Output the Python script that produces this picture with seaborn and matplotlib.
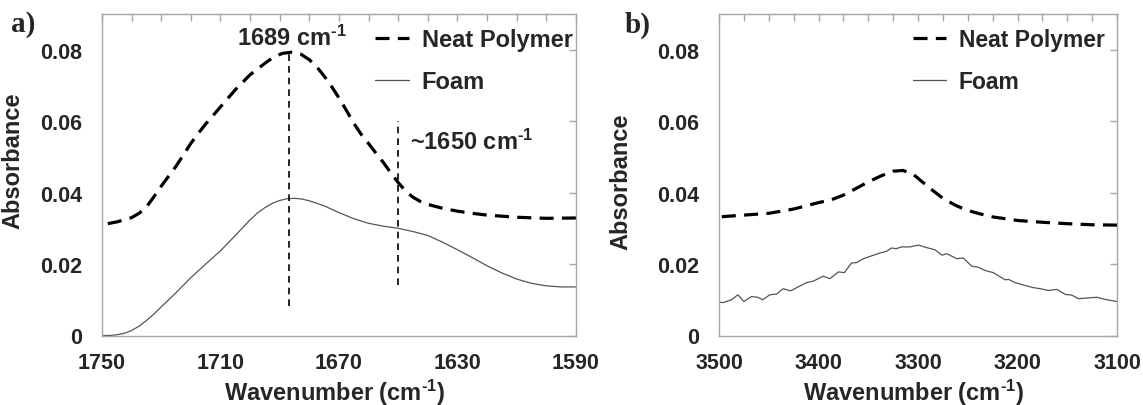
import matplotlib
matplotlib.use("Agg")
import matplotlib.pyplot as plt
from matplotlib.ticker import MultipleLocator, FixedLocator, FixedFormatter
import seaborn as sns
import numpy as np

# ---------------- data ----------------
# Panel a) 1750-1590 cm-1
wn_a_neat = [1750, 1745, 1740, 1737.5, 1735, 1732.5, 1730, 1727.5, 1725, 1722.5,
             1720, 1717.5, 1715, 1712.5, 1710, 1705, 1700, 1695, 1692, 1689,
             1686, 1683, 1680, 1677.5, 1675, 1672.5, 1670, 1667.5, 1665, 1662.5,
             1660, 1657.5, 1655, 1652.5, 1650, 1647.5, 1645, 1642.5, 1640, 1635,
             1630, 1625, 1620, 1610, 1600, 1590]
abs_a_neat = [0.0310, 0.0318, 0.0330, 0.0342, 0.0360, 0.0388, 0.0418, 0.0446, 0.0474, 0.0506,
              0.0538, 0.0566, 0.0592, 0.0616, 0.0640, 0.0688, 0.0730, 0.0762, 0.0780, 0.0790,
              0.0793, 0.0788, 0.0772, 0.0752, 0.0726, 0.0697, 0.0665, 0.0630, 0.0594, 0.0563,
              0.0537, 0.0510, 0.0484, 0.0455, 0.0428, 0.0404, 0.0387, 0.0375, 0.0367, 0.0356,
              0.0348, 0.0342, 0.0337, 0.0331, 0.0328, 0.0329]

wn_a_foam = [1750, 1747.5, 1745, 1742.5, 1740, 1737.5, 1735, 1732.5, 1730, 1725,
             1720, 1715, 1710, 1705, 1700, 1697.5, 1695, 1692.5, 1690, 1687.5,
             1685, 1682.5, 1680, 1675, 1670, 1665, 1660, 1655, 1650, 1645,
             1640, 1635, 1630, 1625, 1620, 1615, 1610, 1605, 1600, 1595, 1590]
abs_a_foam = [0.0000, 0.0000, 0.0002, 0.0006, 0.0014, 0.0026, 0.0042, 0.0060, 0.0080, 0.0120,
              0.0162, 0.0200, 0.0237, 0.0280, 0.0324, 0.0343, 0.0358, 0.0370, 0.0378, 0.0383,
              0.0384, 0.0382, 0.0377, 0.0363, 0.0344, 0.0327, 0.0314, 0.0306, 0.0300, 0.0291,
              0.0280, 0.0261, 0.0240, 0.0218, 0.0195, 0.0175, 0.0158, 0.0146, 0.0139, 0.0136, 0.0136]

# Panel b) 3500-3100 cm-1
wn_b_neat = [3500, 3475, 3450, 3425, 3400, 3387, 3375, 3362, 3350, 3337,
             3325, 3315, 3305, 3300, 3287, 3275, 3262, 3250, 3237, 3225,
             3200, 3175, 3150, 3125, 3100]
abs_b_neat = [0.0332, 0.0337, 0.0342, 0.0354, 0.0372, 0.0380, 0.0393, 0.0412, 0.0430, 0.0447,
              0.0460, 0.0462, 0.0452, 0.0440, 0.0410, 0.0384, 0.0364, 0.0350, 0.0340, 0.0332,
              0.0322, 0.0317, 0.0313, 0.0310, 0.0309]

wn_b_foam = [3500, 3496, 3487.5, 3481, 3475, 3467.4, 3461, 3456, 3449, 3442,
             3435.6, 3428, 3420.5, 3412, 3405.4, 3395.3, 3388.6, 3380, 3374, 3366.8,
             3361.7, 3355, 3346.6, 3338, 3331.5, 3326.5, 3322, 3316.5, 3308, 3299.7,
             3291.3, 3283, 3276, 3271, 3261, 3254.5, 3246, 3239.4, 3232.6, 3224.3,
             3212.5, 3209, 3202.4, 3192.4, 3184, 3177, 3169, 3160.5, 3152, 3145.4,
             3138.7, 3130, 3120, 3115, 3110, 3100]
abs_b_foam = [0.0094, 0.0092, 0.0100, 0.0114, 0.0095, 0.0109, 0.0107, 0.0100, 0.0114, 0.0116,
              0.0131, 0.0125, 0.0136, 0.0148, 0.0152, 0.0166, 0.0159, 0.0178, 0.0176, 0.0203,
              0.0204, 0.0215, 0.0223, 0.0231, 0.0236, 0.0245, 0.0243, 0.0248, 0.0248, 0.0253,
              0.0246, 0.0240, 0.0225, 0.0229, 0.0215, 0.0217, 0.0194, 0.0191, 0.0182, 0.0176,
              0.0156, 0.0157, 0.0148, 0.0140, 0.0134, 0.0131, 0.0126, 0.0129, 0.0115, 0.0113,
              0.0103, 0.0105, 0.0107, 0.0103, 0.0100, 0.0095]

series_labels = ["Neat Polymer", "Foam"]
y_ticks = [0, 0.02, 0.04, 0.06, 0.08]
y_tick_labels = ["0", "0.02", "0.04", "0.06", "0.08"]
x_ticks_a = [1750, 1710, 1670, 1630, 1590]
x_ticks_b = [3500, 3400, 3300, 3200, 3100]

# annotation markers (panel a)
peak_lines_x = [1687, 1650]
peak_lines_ymin = [0.0083, 0.0141]
peak_lines_ymax = [0.0793, 0.0601]
peak_labels = [r"1689 cm$^{\text{-1}}$", r"~1650 cm$^{\text{-1}}$"]
peak_label_x = [1686, 1646]
peak_label_y = [0.0836, 0.0545]
x_label = r"Wavenumber (cm$^{\text{-1}}$)"
y_label = "Absorbance"

# ---------------- style ----------------
sns.set_theme(style="white")
plt.rcParams["font.family"] = ["Liberation Sans", "DejaVu Sans"]
plt.rcParams["font.weight"] = "bold"
plt.rcParams["mathtext.fontset"] = "custom"
plt.rcParams["mathtext.rm"] = "Liberation Sans:bold"
plt.rcParams["mathtext.bf"] = "Liberation Sans:bold"
plt.rcParams["mathtext.default"] = "rm"

SPINE = "#a6a6a6"
FOAM_C = "#555555"

fig = plt.figure(figsize=(11.43, 4.06), dpi=100)
ax_a = fig.add_axes([102 / 1143, 1 - 336.5 / 406, 474 / 1143, 321.5 / 406])
ax_b = fig.add_axes([719 / 1143, 1 - 336.5 / 406, 398 / 1143, 321.5 / 406])

neat_style = dict(color="black", linewidth=2.3, linestyle=(0, (4.4, 2.6)))
foam_style = dict(color=FOAM_C, linewidth=0.9)

sns.lineplot(x=wn_a_neat, y=abs_a_neat, ax=ax_a, label=series_labels[0], **neat_style)
sns.lineplot(x=wn_a_foam, y=abs_a_foam, ax=ax_a, label=series_labels[1], **foam_style)
sns.lineplot(x=wn_b_neat, y=abs_b_neat, ax=ax_b, label=series_labels[0], **neat_style)
sns.lineplot(x=wn_b_foam, y=abs_b_foam, ax=ax_b, label=series_labels[1], **foam_style)

for x, y0, y1 in zip(peak_lines_x, peak_lines_ymin, peak_lines_ymax):
    ax_a.plot([x, x], [y0, y1], color="black", linewidth=1.2, linestyle=(0, (4, 3)))
for s, x, y in zip(peak_labels, peak_label_x, peak_label_y):
    ha = "center" if s.startswith("1") else "left"
    ax_a.text(x, y, s, ha=ha, va="center", fontsize=17, fontweight="bold")

TICK_FS = 15.5
LABEL_FS = 17
for ax, xt, xmin, xmax, minor, lx, ly, legx, legfs in [
        (ax_a, x_ticks_a, 1750, 1590, 10, -0.1646, 0.546, 0.575, 17),
        (ax_b, x_ticks_b, 3500, 3100, 25, -0.2186, 0.482, 0.487, 16.5)]:
    ax.set_xlim(xmin, xmax)
    ax.set_ylim(0, 0.09)
    ax.xaxis.set_major_locator(FixedLocator(xt))
    ax.xaxis.set_major_formatter(FixedFormatter([str(v) for v in xt]))
    ax.xaxis.set_minor_locator(MultipleLocator(minor))
    ax.yaxis.set_major_locator(FixedLocator(y_ticks))
    ax.yaxis.set_major_formatter(FixedFormatter(y_tick_labels))
    ax.tick_params(axis="both", which="both", direction="in", length=5, width=1,
                   color=SPINE, top=True, right=True, labelsize=TICK_FS)
    ax.tick_params(axis="x", which="major", pad=12)
    ax.tick_params(axis="y", which="major", pad=14)
    for lab in ax.get_xticklabels() + ax.get_yticklabels():
        lab.set_fontweight("bold")
    for sp in ax.spines.values():
        sp.set_color(SPINE)
        sp.set_linewidth(1)
    ax.set_xlabel(x_label, fontsize=LABEL_FS, fontweight="bold")
    ax.set_ylabel(y_label, fontsize=LABEL_FS, fontweight="bold")
    ax.xaxis.set_label_coords(0.49, -0.128)
    ax.yaxis.set_label_coords(lx, ly)
    leg = ax.legend(loc="upper left", bbox_to_anchor=(legx, 0.955), frameon=False,
                    fontsize=legfs, handlelength=1.45, handletextpad=0.55,
                    labelspacing=0.8, borderpad=0, borderaxespad=0)
    for t in leg.get_texts():
        t.set_fontweight("bold")

fig.text(23 / 1143, 1 - 25 / 406, "a)", ha="center", va="center",
         fontsize=21, fontweight="bold", family=["Liberation Serif", "DejaVu Serif"])
fig.text(638 / 1143, 1 - 25 / 406, "b)", ha="center", va="center",
         fontsize=21, fontweight="bold", family=["Liberation Serif", "DejaVu Serif"])

fig.savefig("out.png", dpi=100, facecolor="white")
